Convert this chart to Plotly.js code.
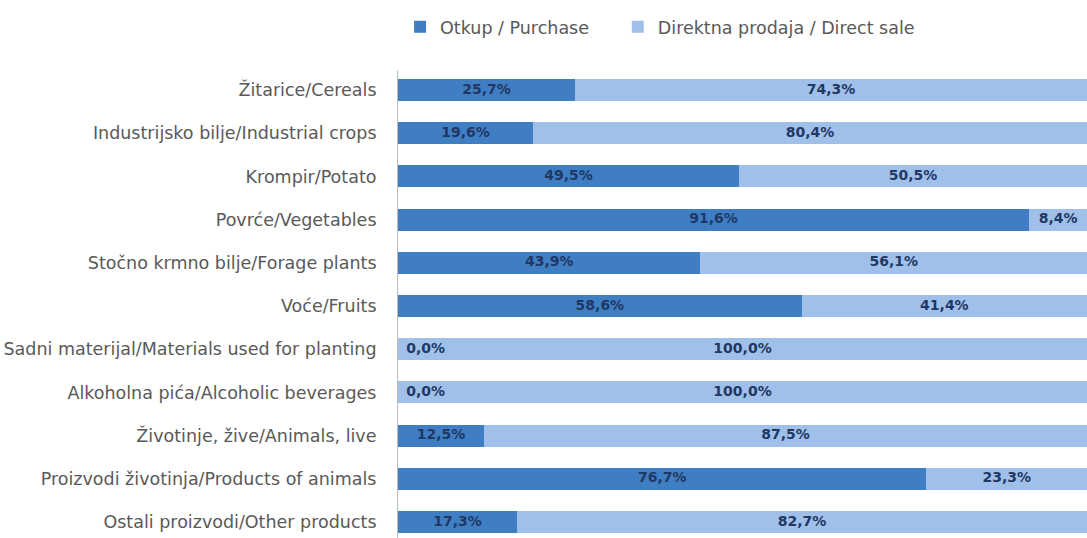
<!DOCTYPE html>
<html>
<head>
<meta charset="utf-8">
<script src="https://cdn.plot.ly/plotly-3.0.1.min.js"></script>
<style>html,body{margin:0;padding:0;background:#fff;}#chart{width:1087px;height:538px;}</style>
</head>
<body>
<div id="chart"></div>
<script>
const categories = [
  "Žitarice/Cereals",
  "Industrijsko bilje/Industrial crops",
  "Krompir/Potato",
  "Povrće/Vegetables",
  "Stočno krmno bilje/Forage plants",
  "Voće/Fruits",
  "Sadni materijal/Materials used for planting",
  "Alkoholna pića/Alcoholic beverages",
  "Životinje, žive/Animals, live",
  "Proizvodi životinja/Products of animals",
  "Ostali proizvodi/Other products"
];
const purchase = [25.7, 19.6, 49.5, 91.6, 43.9, 58.6, 0.0, 0.0, 12.5, 76.7, 17.3];
const directSale = [74.3, 80.4, 50.5, 8.4, 56.1, 41.4, 100.0, 100.0, 87.5, 23.3, 82.7];
const seriesNames = ["Otkup / Purchase", "Direktna prodaja / Direct sale"];

const darkBlue = "#3f7ec3";
const lightBlue = "#a0c0e9";
const labelColor = "#1f3864";
const fontFam = "'DejaVu Sans', sans-serif";

const fmt = v => v.toFixed(1).replace('.', ',') + '%';

const lx = [], ly = [], lt = [], lpos = [];
categories.forEach((c, i) => {
  const p = purchase[i], d = directSale[i];
  if (p === 0) { lx.push(1.2); lpos.push('middle right'); }
  else { lx.push(p / 2); lpos.push('middle center'); }
  ly.push(c); lt.push(fmt(p));
  lx.push(p + d / 2); ly.push(c); lt.push(fmt(d)); lpos.push('middle center');
});

const traces = [
  {type: 'bar', orientation: 'h', name: seriesNames[0], y: categories, x: purchase,
   marker: {color: darkBlue}, hoverinfo: 'x+y', legend: 'legend'},
  {type: 'bar', orientation: 'h', name: seriesNames[1], y: categories, x: directSale,
   marker: {color: lightBlue}, hoverinfo: 'x+y', legend: 'legend2'},
  {type: 'scatter', mode: 'text', x: lx, y: ly, text: lt, textposition: lpos,
   textfont: {family: fontFam, size: 14, color: labelColor, weight: 'bold'},
   showlegend: false, hoverinfo: 'skip', cliponaxis: false}
];

const legFont = {family: fontFam, size: 17.5, color: '#595959'};
const layout = {
  width: 1087, height: 538,
  margin: {l: 398, r: 0, t: 70, b: 0, pad: 0},
  barmode: 'stack',
  bargap: 0.49,
  paper_bgcolor: '#ffffff', plot_bgcolor: '#ffffff',
  font: {family: fontFam, size: 17.5, color: '#595959'},
  showlegend: true,
  legend: {orientation: 'h', x: 0.003, xanchor: 'left', y: 0.95, yanchor: 'middle', yref: 'container',
           font: legFont, itemwidth: 30},
  legend2: {orientation: 'h', x: 0.319, xanchor: 'left', y: 0.95, yanchor: 'middle', yref: 'container',
           font: legFont, itemwidth: 30},
  xaxis: {range: [0, 100], showgrid: false, zeroline: false, showticklabels: false, showline: false, fixedrange: true},
  yaxis: {type: 'category', categoryorder: 'array', categoryarray: categories,
          range: [10.37, -0.463], showgrid: false, zeroline: false,
          showline: true, linecolor: '#bfbfbf', linewidth: 1, ticks: '', ticklabelstandoff: 17,
          tickfont: {family: fontFam, size: 17.5, color: '#595959'}, automargin: false}
};

Plotly.newPlot('chart', traces, layout, {displayModeBar: false, staticPlot: true});
</script>
</body>
</html>
